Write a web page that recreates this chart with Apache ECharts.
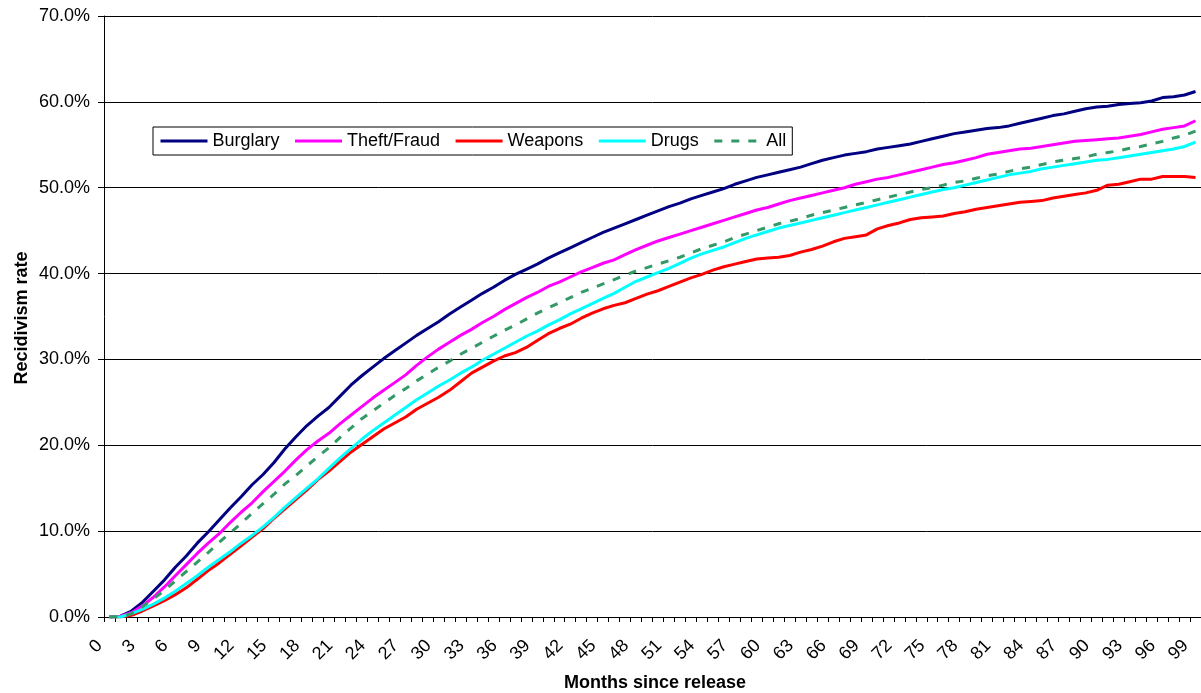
<!DOCTYPE html>
<html>
<head>
<meta charset="utf-8">
<script src="https://cdn.jsdelivr.net/npm/echarts@6/dist/echarts.min.js"></script>
<style>
html,body{margin:0;padding:0;background:#fff;}
#chart{width:1201px;height:693px;}
</style>
</head>
<body>
<div id="chart"></div>
<script>
var months = [0,1,2,3,4,5,6,7,8,9,10,11,12,13,14,15,16,17,18,19,20,21,22,23,24,25,26,27,28,29,30,31,32,33,34,35,36,37,38,39,40,41,42,43,44,45,46,47,48,49,50,51,52,53,54,55,56,57,58,59,60,61,62,63,64,65,66,67,68,69,70,71,72,73,74,75,76,77,78,79,80,81,82,83,84,85,86,87,88,89,90,91,92,93,94,95,96,97,98,99];

var burglary = [0,0.1,0.7,1.7,3.0,4.3,5.8,7.1,8.6,9.9,
11.3,12.7,14.0,15.4,16.6,18.0,19.6,21.0,22.3,23.4,
24.4,25.7,27.0,28.1,29.1,30.1,31.0,31.9,32.8,33.6,
34.4,35.3,36.1,36.9,37.7,38.4,39.2,39.9,40.5,41.1,
41.8,42.4,43.0,43.6,44.2,44.8,45.3,45.8,46.3,46.8,
47.3,47.8,48.2,48.7,49.1,49.5,49.9,50.4,50.8,51.2,
51.5,51.8,52.1,52.4,52.8,53.2,53.5,53.8,54.0,54.2,
54.5,54.7,54.9,55.1,55.4,55.7,56.0,56.3,56.5,56.7,
56.9,57.0,57.2,57.5,57.8,58.1,58.4,58.6,58.9,59.2,
59.4,59.5,59.7,59.8,59.9,60.1,60.5,60.6,60.8,61.2];

var theftFraud = [0,0.1,0.5,1.3,2.3,3.5,4.8,6.1,7.4,8.6,
9.7,11.0,12.2,13.3,14.6,15.8,17.0,18.3,19.5,20.5,
21.4,22.5,23.5,24.5,25.5,26.4,27.3,28.2,29.3,30.3,
31.2,32.0,32.8,33.5,34.3,35.0,35.8,36.5,37.2,37.8,
38.5,39.0,39.6,40.2,40.7,41.2,41.6,42.2,42.8,43.3,
43.8,44.2,44.6,45.0,45.4,45.8,46.2,46.6,47.0,47.4,
47.7,48.1,48.5,48.8,49.1,49.4,49.7,50.0,50.4,50.7,
51.0,51.2,51.5,51.8,52.1,52.4,52.7,52.9,53.2,53.5,
53.9,54.1,54.3,54.5,54.6,54.8,55.0,55.2,55.4,55.5,
55.6,55.7,55.8,56.0,56.2,56.5,56.8,57.0,57.2,57.8];

var weapons = [0,0,0.2,0.7,1.3,1.9,2.6,3.4,4.4,5.4,
6.3,7.3,8.3,9.3,10.3,11.5,12.6,13.7,14.8,16.0,
17.0,18.1,19.2,20.1,21.0,21.9,22.6,23.3,24.2,24.9,
25.6,26.4,27.4,28.4,29.1,29.8,30.4,30.8,31.4,32.2,
33.0,33.6,34.1,34.8,35.4,35.9,36.3,36.6,37.1,37.6,
38.0,38.5,39.0,39.5,39.9,40.4,40.8,41.1,41.4,41.7,
41.8,41.9,42.1,42.5,42.8,43.2,43.7,44.1,44.3,44.5,
45.2,45.6,45.9,46.3,46.5,46.6,46.7,47.0,47.2,47.5,
47.7,47.9,48.1,48.3,48.4,48.5,48.8,49.0,49.2,49.4,
49.7,50.3,50.4,50.7,51.0,51.0,51.3,51.3,51.3,51.2];

var drugs = [0,0,0.4,0.9,1.5,2.2,3.0,3.9,4.8,5.8,
6.7,7.6,8.6,9.5,10.5,11.6,12.8,13.9,15.0,16.1,
17.3,18.5,19.6,20.7,21.7,22.6,23.5,24.4,25.3,26.1,
26.9,27.6,28.4,29.1,29.9,30.6,31.3,32.0,32.7,33.3,
34.0,34.6,35.3,35.9,36.5,37.1,37.7,38.4,39.1,39.6,
40.1,40.6,41.2,41.8,42.3,42.7,43.1,43.6,44.1,44.5,
44.9,45.3,45.6,45.9,46.2,46.5,46.8,47.1,47.4,47.7,
48.0,48.3,48.6,48.9,49.2,49.5,49.8,50.0,50.3,50.6,
50.9,51.2,51.5,51.7,51.9,52.2,52.4,52.6,52.8,53.0,
53.2,53.3,53.5,53.7,53.9,54.1,54.3,54.5,54.8,55.3];

var all = [0,0,0.4,1.2,2.1,3.1,4.2,5.3,6.4,7.5,
8.7,9.8,10.9,12.1,13.2,14.3,15.5,16.5,17.6,18.7,
19.7,20.9,22.0,23.1,24.0,24.9,25.8,26.6,27.5,28.3,
29.1,29.8,30.6,31.3,32.0,32.7,33.4,34.0,34.7,35.4,
36.0,36.6,37.2,37.8,38.3,38.8,39.3,39.8,40.3,40.7,
41.1,41.5,41.9,42.4,42.9,43.3,43.7,44.2,44.6,45.0,
45.4,45.8,46.1,46.4,46.8,47.1,47.4,47.7,48.0,48.3,
48.6,48.9,49.2,49.5,49.8,50.0,50.3,50.6,50.8,51.1,
51.4,51.6,51.9,52.2,52.4,52.7,53.0,53.2,53.4,53.6,
53.9,54.1,54.3,54.6,54.8,55.1,55.4,55.8,56.1,56.6];

var seriesNames = ['Burglary','Theft/Fraud','Weapons','Drugs','All'];
var seriesData = [burglary, theftFraud, weapons, drugs, all];
var seriesColors = ['#000080','#FF00FF','#FF0000','#00FFFF','#339966'];

var FONT = 'Liberation Sans, Arial, sans-serif';

var chart = echarts.init(document.getElementById('chart'), null, {renderer:'canvas'});

var series = seriesNames.map(function(name, i){
  return {
    name: name,
    type: 'line',
    data: seriesData[i],
    symbol: 'none',
    smooth: false,
    animation: false,
    lineStyle: {
      color: seriesColors[i],
      width: 3,
      type: name === 'All' ? [8, 9] : 'solid'
    },
    itemStyle: { color: seriesColors[i] }
  };
});

chart.setOption({
  animation: false,
  backgroundColor: '#ffffff',
  textStyle: { fontFamily: FONT },
  grid: { left: 104, top: 16, right: 0, bottom: 76, containLabel: false, outerBoundsMode: 'none' },
  legend: {
    left: 153, top: 127,
    padding: [5, 6, 5, 6],
    itemGap: 14,
    itemWidth: 47,
    itemHeight: 14,
    borderColor: '#000', borderWidth: 1,
    backgroundColor: '#fff',
    itemStyle: { opacity: 0 },
    lineStyle: { width: 3 },
    textStyle: { fontSize: 18, color: '#000', fontFamily: FONT },
    data: seriesNames
  },
  xAxis: {
    type: 'category',
    data: months,
    boundaryGap: true,
    axisLine: { lineStyle: { color: '#000', width: 1 } },
    axisTick: { show: true, interval: 0, length: 5, lineStyle: { color: '#000' } },
    axisLabel: { interval: 2, rotate: 45, fontSize: 18, color: '#000', margin: 16, padding: [0, 14, 0, 0], fontFamily: FONT },
    splitLine: { show: false }
  },
  yAxis: {
    type: 'value',
    min: 0, max: 70, interval: 10,
    axisLine: { show: true, lineStyle: { color: '#000', width: 1 } },
    axisTick: { show: true, length: 6, lineStyle: { color: '#000' } },
    axisLabel: {
      fontSize: 18, color: '#000', margin: 14, fontFamily: FONT,
      formatter: function(v){ return v.toFixed(1) + '%'; }
    },
    splitLine: { show: true, lineStyle: { color: '#000', width: 1 } }
  },
  graphic: [{
    type: 'text',
    x: 22, y: 318,
    rotation: Math.PI / 2,
    style: {
      text: 'Recidivism rate',
      fontSize: 18, fontWeight: 'bold', fontFamily: FONT,
      fill: '#000',
      textAlign: 'center', textVerticalAlign: 'middle'
    }
  }, {
    type: 'text',
    x: 655, y: 683,
    style: {
      text: 'Months since release',
      fontSize: 18, fontWeight: 'bold', fontFamily: FONT,
      fill: '#000',
      textAlign: 'center', textVerticalAlign: 'middle'
    }
  }],
  series: series
});
</script>
</body>
</html>
